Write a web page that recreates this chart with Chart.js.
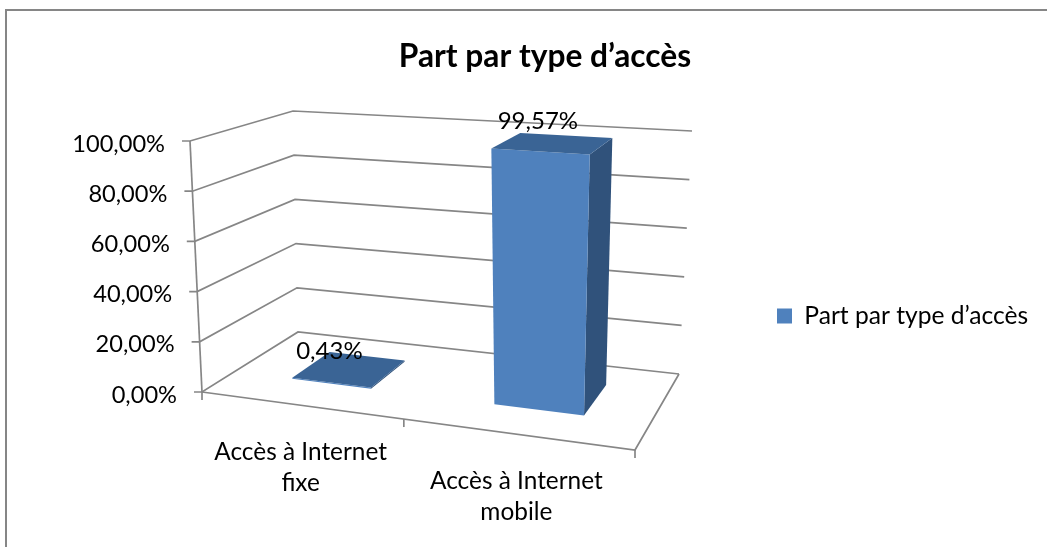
<!DOCTYPE html>
<html lang="fr">
<head>
<meta charset="utf-8">
<style>
html,body{margin:0;padding:0;background:#fff;overflow:hidden}
#frame{position:absolute;left:5px;top:9px;width:1042px;height:538px;border-left:2px solid #868686;border-top:2px solid #868686;box-sizing:border-box}
canvas{position:absolute;left:0;top:0}
</style>
<script src="https://cdn.jsdelivr.net/npm/chart.js@4"></script>
</head>
<body>
<div id="frame"></div>
<canvas id="c" width="1047" height="547" style="width:1047px;height:547px"></canvas>
<script>
const chartTitle = 'Part par type d’accès';
const categories = [['Accès à Internet', 'fixe'], ['Accès à Internet', 'mobile']];
const seriesName = 'Part par type d’accès';
const seriesValues = [0.43, 99.57];
const valueLabels = ['0,43%', '99,57%'];
const yMin = 0, yMax = 100, yStep = 20;

const FONT = 'Lato, Carlito, Calibri, sans-serif';
const LABEL_SIZE = 24.4;
const VALUE_SIZE = 24;
const TICK_SIZE = 23.6;
const LEGEND_SIZE = 24.6;
const TITLE_SIZE = 31.7;
const GRID = '#868686';
const FRONT = '#4F81BD', TOP = '#3A6495', SIDE = '#30527B';

// corners of the 3D box, floor and top planes, in (u, w): front-left, front-right, back-right, back-left
const floorQuad = [[202, 392], [635, 450], [679, 374], [298, 332]];
const topQuad = [[190, 141], [650, 173], [692, 131], [293, 111]];
const DEPTH0 = 0.31, DEPTH1 = 0.73, BAR_SHIFT = 0.006;

function homography(q) {
  const [[x0, y0], [x1, y1], [x2, y2], [x3, y3]] = q;
  const dx1 = x1 - x2, dx2 = x3 - x2, sx = x0 - x1 + x2 - x3;
  const dy1 = y1 - y2, dy2 = y3 - y2, sy = y0 - y1 + y2 - y3;
  const den = dx1 * dy2 - dx2 * dy1;
  const g = (sx * dy2 - dx2 * sy) / den, h = (dx1 * sy - sx * dy1) / den;
  const a = x1 - x0 + g * x1, b = x3 - x0 + h * x3, d = y1 - y0 + g * y1, e = y3 - y0 + h * y3;
  return (u, w) => {
    const k = g * u + h * w + 1;
    return [(a * u + b * w + x0) / k, (d * u + e * w + y0) / k];
  };
}
const floorH = homography(floorQuad), topH = homography(topQuad);
function project(u, v, w) {
  const f = floorH(u, w), t = topH(u, w);
  return [f[0] + (t[0] - f[0]) * v, f[1] + (t[1] - f[1]) * v];
}

function poly(ctx, pts, fill) {
  ctx.beginPath();
  pts.forEach((p, i) => i ? ctx.lineTo(p[0], p[1]) : ctx.moveTo(p[0], p[1]));
  ctx.closePath();
  ctx.fillStyle = fill;
  ctx.fill();
}
function polyline(ctx, pts) {
  ctx.beginPath();
  pts.forEach((p, i) => i ? ctx.lineTo(p[0], p[1]) : ctx.moveTo(p[0], p[1]));
  ctx.stroke();
}

const box3d = {
  id: 'box3d',
  afterLayout(chart) {
    const t = chart.titleBlock, l = chart.legend;
    t.left = 0; t.right = 1090;
    const lw = l.right - l.left;
    l.left = 767; l.right = 767 + lw;
    l.top += 120; l.bottom += 120;
  },
  beforeDatasetsDraw(chart) {
    const ctx = chart.ctx, xs = chart.scales.x, ys = chart.scales.y, area = chart.chartArea;
    const uOf = px => (px - area.left) / (area.right - area.left);
    const vOf = py => (area.bottom - py) / (area.bottom - area.top);
    ctx.save();
    ctx.strokeStyle = GRID;
    ctx.lineWidth = 1.7;
    ctx.lineJoin = 'miter';

    // walls and value gridlines
    ys.ticks.forEach(t => {
      const v = vOf(ys.getPixelForValue(t.value));
      const a = project(0, v, 0);
      polyline(ctx, [[a[0] - 8, a[1]], a, project(0, v, 1), project(1, v, 1)]);
    });
    // value axis, floor edges and category ticks
    polyline(ctx, [project(0, 0, 0), project(0, 1, 0)]);
    polyline(ctx, [project(0, 0, 0), project(1, 0, 0), project(1, 0, 1)]);
    const n = categories.length;
    for (let i = 0; i <= n; i++) {
      const p = project(i / n, 0, 0);
      polyline(ctx, [p, [p[0], p[1] + 8]]);
    }

    // bars
    const meta = chart.getDatasetMeta(0);
    meta.data.forEach(bar => {
      const u0 = uOf(bar.x - bar.width / 2) + BAR_SHIFT, u1 = uOf(bar.x + bar.width / 2) + BAR_SHIFT;
      const v0 = vOf(bar.base), v1 = vOf(bar.y);
      poly(ctx, [project(u1, v0, DEPTH0), project(u1, v0, DEPTH1), project(u1, v1, DEPTH1), project(u1, v1, DEPTH0)], SIDE);
      poly(ctx, [project(u0, v0, DEPTH0), project(u1, v0, DEPTH0), project(u1, v1, DEPTH0), project(u0, v1, DEPTH0)], FRONT);
      poly(ctx, [project(u0, v1, DEPTH0), project(u1, v1, DEPTH0), project(u1, v1, DEPTH1), project(u0, v1, DEPTH1)], TOP);
    });

    // text
    ctx.fillStyle = '#000';
    ctx.textBaseline = 'middle';
    ctx.textAlign = 'right';
    ctx.font = TICK_SIZE + 'px ' + FONT;
    ys.ticks.forEach(t => {
      const a = project(0, vOf(ys.getPixelForValue(t.value)), 0);
      ctx.fillText(t.label, a[0] - 25, a[1] + 3);
    });
    ctx.textAlign = 'center';
    ctx.font = LABEL_SIZE + 'px ' + FONT;
    categories.forEach((lines, i) => {
      const p = project(uOf(xs.getPixelForValue(i)), 0, 0);
      lines.forEach((s, j) => ctx.fillText(s, p[0] + 1, p[1] + 47 + j * 31));
    });
    ctx.font = VALUE_SIZE + 'px ' + FONT;
    meta.data.forEach((bar, i) => {
      const uc = uOf(bar.x) + BAR_SHIFT, v = vOf(bar.y);
      const p = project(uc, v, (DEPTH0 + DEPTH1) / 2);
      ctx.fillText(valueLabels[i], p[0] - 20 + 5 * v, p[1] - 18 - 4 * v);
    });
    ctx.restore();
    return false;
  }
};

new Chart(document.getElementById('c'), {
  type: 'bar',
  data: {
    labels: categories,
    datasets: [{ label: seriesName, data: seriesValues, backgroundColor: FRONT, categoryPercentage: 0.9, barPercentage: 0.45 }]
  },
  options: {
    responsive: false,
    animation: false,
    devicePixelRatio: 1,
    layout: { padding: { left: 190, right: 130, top: 0, bottom: 155 } },
    scales: {
      x: { display: false, offset: true },
      y: {
        display: false, min: yMin, max: yMax,
        ticks: { stepSize: yStep, callback: v => v.toFixed(2).replace('.', ',') + '%' }
      }
    },
    plugins: {
      title: { display: true, text: chartTitle, color: '#000', font: { family: FONT, size: TITLE_SIZE, weight: 'bold', lineHeight: 1.2 }, padding: { top: 38, bottom: 65 } },
      legend: {
        position: 'right',
        labels: { color: '#000', boxWidth: 15, boxHeight: 15, font: { family: FONT, size: LEGEND_SIZE } }
      },
      tooltip: { enabled: false }
    }
  },
  plugins: [box3d]
});
</script>
</body>
</html>
